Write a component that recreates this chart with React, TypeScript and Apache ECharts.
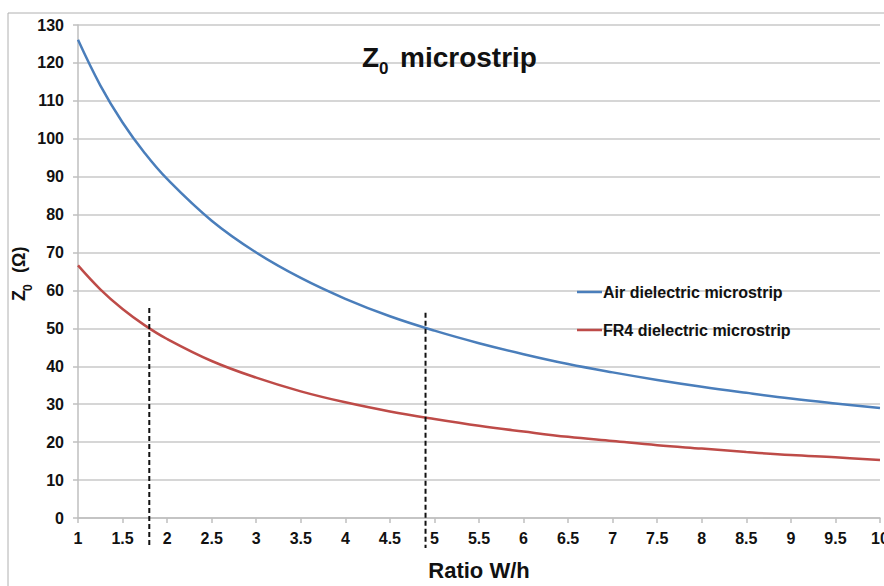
import React, { useEffect, useRef } from "react";
import * as echarts from "echarts";

// W/h ratio samples and characteristic impedance
const ratios = [1, 1.25, 1.5, 1.75, 2, 2.5, 3, 3.5, 4, 4.5, 5, 5.5, 6, 6.5, 7, 7.5, 8, 8.5, 9, 9.5, 10];
const airZ0 = [126.1, 114.1, 104.3, 96.2, 89.4, 78.4, 70.0, 63.3, 57.8, 53.2, 49.4, 46.1, 43.2, 40.6, 38.4, 36.4, 34.6, 33.0, 31.5, 30.2, 29.0];
const fr4Z0 = [66.6, 60.3, 55.1, 50.8, 47.2, 41.4, 37.0, 33.4, 30.5, 28.1, 26.1, 24.3, 22.8, 21.4, 20.3, 19.2, 18.3, 17.4, 16.6, 16.0, 15.3];

// 50-ohm marker lines (x position, top value, bottom value)
const markerRatios = [1.8, 4.9];
const markerTops = [55.4, 54.1];
const markerBottom = -7.9;

const seriesNames = ["Air dielectric microstrip", "FR4 dielectric microstrip"];
const xAxisTitle = "Ratio W/h";

const FONT = "'Liberation Sans', Arial, sans-serif";
const LEGEND_ICON = "path://M0,0H25V2.5H0Z";

export default function App() {
  const ref = useRef<HTMLDivElement>(null);

  useEffect(() => {
    if (!ref.current) return;
    const chart = echarts.init(ref.current, null, { renderer: "svg" });

    const markerSeries = markerRatios.map((r, i) => ({
      type: "line",
      name: "marker" + i,
      data: [
        [r, markerTops[i]],
        [r, markerBottom],
      ],
      clip: false,
      symbol: "none",
      silent: true,
      z: 5,
      lineStyle: { color: "#111", width: 2, type: [5, 3] },
    }));

    chart.setOption({
      animation: false,
      backgroundColor: "#fff",
      textStyle: { fontFamily: FONT },
      grid: { left: 78, right: 4, top: 25, bottom: 68, containLabel: false, outerBoundsMode: "none" },
      legend: {
        data: seriesNames.map((n) => ({ name: n, icon: LEGEND_ICON })),
        orient: "vertical",
        left: 572,
        top: 279,
        padding: 5,
        itemWidth: 25,
        itemHeight: 16,
        itemGap: 22,
        symbolKeepAspect: true,
        textStyle: { fontFamily: FONT, fontSize: 16, fontWeight: "bold", color: "#111", padding: [0, 0, 0, -4] },
      },
      xAxis: {
        type: "value",
        min: 1,
        max: 10,
        interval: 0.5,
        name: xAxisTitle,
        nameLocation: "middle",
        nameGap: 41,
        nameTextStyle: { fontFamily: FONT, fontSize: 22, fontWeight: "bold", color: "#111" },
        axisLine: { show: true, lineStyle: { color: "#bfbfbf", width: 1.5 } },
        axisTick: { show: true, length: 5, lineStyle: { color: "#bfbfbf", width: 1.5 } },
        axisLabel: { fontFamily: FONT, fontSize: 16, fontWeight: "bold", color: "#111", margin: 12, showMaxLabel: true },
        splitLine: { show: false },
      },
      yAxis: {
        type: "value",
        min: 0,
        max: 130,
        interval: 10,
        axisLine: { show: true, lineStyle: { color: "#bfbfbf", width: 1.5 } },
        axisTick: { show: true, length: 5, lineStyle: { color: "#bfbfbf", width: 1.5 } },
        axisLabel: { fontFamily: FONT, fontSize: 16, fontWeight: "bold", color: "#111", margin: 14 },
        splitLine: { show: true, lineStyle: { color: "#c8c8c8", width: 1.5 } },
      },
      graphic: [
        {
          type: "rect",
          shape: { x: 8, y: 13, width: 900, height: 600 },
          style: { fill: "none", stroke: "#b0b0b0", lineWidth: 1 },
          silent: true,
          z: 0,
        },
        {
          type: "text",
          x: 362,
          y: 57,
          style: { text: "Z", font: `bold 28px ${FONT}`, fill: "#111", textAlign: "left", textVerticalAlign: "middle" },
          z: 10,
        },
        {
          type: "text",
          x: 379,
          y: 68,
          style: { text: "0", font: `bold 17px ${FONT}`, fill: "#111", textAlign: "left", textVerticalAlign: "middle" },
          z: 10,
        },
        {
          type: "text",
          x: 400,
          y: 57,
          style: { text: "microstrip", font: `bold 28px ${FONT}`, fill: "#111", textAlign: "left", textVerticalAlign: "middle" },
          z: 10,
        },
        {
          type: "text",
          x: 19,
          y: 301,
          rotation: Math.PI / 2,
          style: { text: "Z", font: `bold 18px ${FONT}`, fill: "#111", textAlign: "left", textVerticalAlign: "middle" },
          z: 10,
        },
        {
          type: "text",
          x: 28,
          y: 291,
          rotation: Math.PI / 2,
          style: { text: "0", font: `bold 12px ${FONT}`, fill: "#111", textAlign: "left", textVerticalAlign: "middle" },
          z: 10,
        },
        {
          type: "text",
          x: 19,
          y: 273,
          rotation: Math.PI / 2,
          style: { text: "(Ω)", font: `bold 18px ${FONT}`, fill: "#111", textAlign: "left", textVerticalAlign: "middle" },
          z: 10,
        },
      ],
      series: [
        {
          type: "line",
          name: seriesNames[0],
          data: ratios.map((r, i) => [r, airZ0[i]]),
          smooth: 0.4,
          symbol: "none",
          lineStyle: { color: "#4A7EBB", width: 2.5 },
          itemStyle: { color: "#4A7EBB" },
          z: 3,
        },
        {
          type: "line",
          name: seriesNames[1],
          data: ratios.map((r, i) => [r, fr4Z0[i]]),
          smooth: 0.4,
          symbol: "none",
          lineStyle: { color: "#BE4B48", width: 2.5 },
          itemStyle: { color: "#BE4B48" },
          z: 3,
        },
        ...markerSeries,
      ],
    });

    return () => chart.dispose();
  }, []);

  return (
    <div
      ref={ref}
      style={{ position: "absolute", left: 0, top: 0, width: 884, height: 586 }}
    />
  );
}
